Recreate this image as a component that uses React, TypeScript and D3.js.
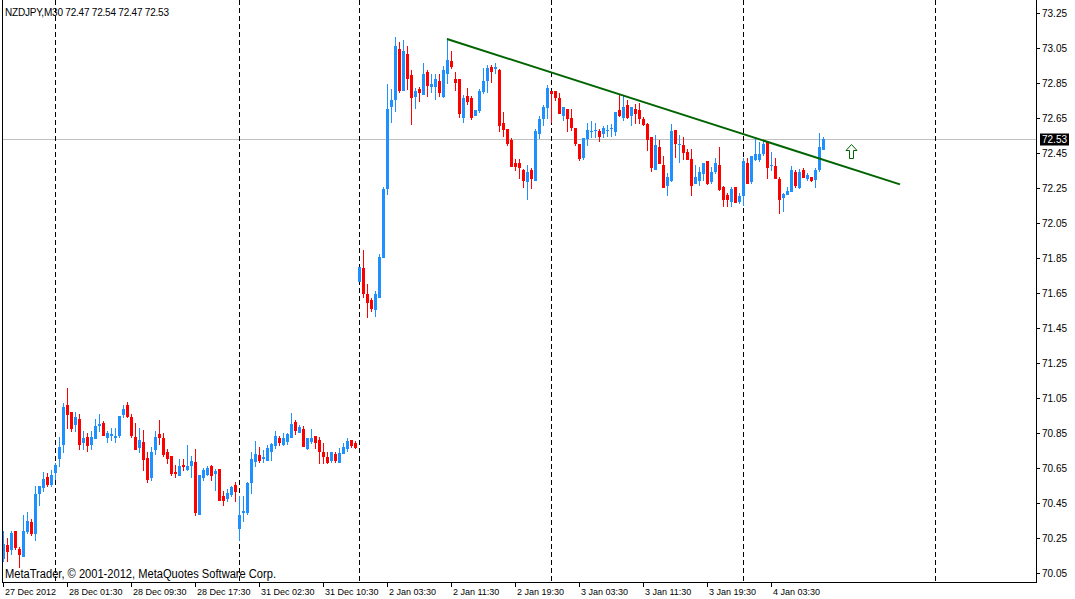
import * as d3 from "d3";

const SYMBOL = "NZDJPY,M30";
const LAST_BAR = [72.47, 72.54, 72.47, 72.53];
const BID = 72.53;

// [open, high, low, close] for each 30-minute bar, one array per trading day
const DEC27 = [
  [70.14, 70.29, 70.12, 70.22], [70.21, 70.25, 70.12, 70.18], [70.19, 70.29, 70.16, 70.28],
  [70.29, 70.29, 70.19, 70.2], [70.19, 70.2, 70.085, 70.16], [70.15, 70.38, 70.15, 70.29],
  [70.29, 70.4, 70.28, 70.35], [70.34, 70.36, 70.27, 70.28], [70.28, 70.55, 70.24, 70.5],
  [70.51, 70.55, 70.44, 70.55], [70.54, 70.63, 70.52, 70.59], [70.6, 70.62, 70.55, 70.56],
  [70.56, 70.64, 70.55, 70.61],
];

const DEC28 = [
  [70.63, 70.68, 70.59, 70.67], [70.71, 70.83, 70.66, 70.77], [70.79, 71.02, 70.74, 71.0],
  [71.01, 71.11, 70.88, 70.96], [70.97, 70.97, 70.86, 70.88], [70.9, 70.97, 70.86, 70.94],
  [70.93, 70.96, 70.76, 70.79], [70.8, 70.86, 70.76, 70.82], [70.83, 70.85, 70.75, 70.78],
  [70.79, 70.86, 70.76, 70.83], [70.82, 70.93, 70.82, 70.89], [70.895, 70.96, 70.86, 70.9],
  [70.91, 70.92, 70.84, 70.84], [70.83, 70.86, 70.8, 70.85], [70.84, 70.88, 70.81, 70.845],
  [70.83, 70.88, 70.8, 70.835], [70.84, 70.95, 70.83, 70.95], [70.96, 71.01, 70.94, 70.99],
  [71.01, 71.03, 70.94, 70.95], [70.94, 70.96, 70.83, 70.84], [70.83, 70.91, 70.76, 70.76],
  [70.77, 70.88, 70.74, 70.81], [70.8, 70.87, 70.64, 70.7], [70.71, 70.74, 70.57, 70.59],
  [70.6, 70.77, 70.58, 70.74], [70.76, 70.86, 70.73, 70.83], [70.845, 70.925, 70.79, 70.83],
  [70.82, 70.85, 70.72, 70.73], [70.74, 70.76, 70.68, 70.71], [70.72, 70.72, 70.61, 70.62],
  [70.63, 70.67, 70.6, 70.62], [70.61, 70.7, 70.61, 70.66], [70.67, 70.7, 70.64, 70.66],
  [70.645, 70.78, 70.64, 70.66], [70.67, 70.72, 70.6, 70.69], [70.685, 70.76, 70.38, 70.4],
  [70.39, 70.61, 70.39, 70.61], [70.6, 70.65, 70.58, 70.64], [70.615, 70.66, 70.61, 70.65],
  [70.66, 70.67, 70.58, 70.61], [70.62, 70.645, 70.525, 70.635], [70.645, 70.645, 70.47, 70.47],
  [70.49, 70.52, 70.44, 70.47], [70.48, 70.53, 70.46, 70.51], [70.5, 70.55, 70.49, 70.54],
  [70.555, 70.57, 70.46, 70.52],
];

const DEC31 = [
  [70.31, 70.49, 70.24, 70.38], [70.4, 70.49, 70.35, 70.405], [70.4, 70.57, 70.39, 70.565],
  [70.57, 70.745, 70.51, 70.7], [70.69, 70.805, 70.66, 70.73], [70.725, 70.77, 70.687, 70.697],
  [70.71, 70.754, 70.687, 70.712], [70.697, 70.782, 70.697, 70.763], [70.75, 70.795, 70.697, 70.79],
  [70.78, 70.864, 70.763, 70.834], [70.82, 70.834, 70.78, 70.8], [70.79, 70.85, 70.78, 70.82],
  [70.807, 70.853, 70.79, 70.845], [70.83, 70.963, 70.83, 70.9], [70.912, 70.925, 70.843, 70.868],
  [70.858, 70.897, 70.855, 70.883], [70.874, 70.89, 70.777, 70.777], [70.767, 70.824, 70.762, 70.824],
  [70.807, 70.872, 70.796, 70.824], [70.834, 70.834, 70.763, 70.8], [70.81, 70.83, 70.68, 70.748],
  [70.744, 70.796, 70.682, 70.72], [70.716, 70.744, 70.682, 70.687], [70.697, 70.744, 70.687, 70.744],
  [70.73, 70.744, 70.687, 70.697], [70.687, 70.767, 70.687, 70.735], [70.739, 70.796, 70.735, 70.769],
  [70.763, 70.82, 70.748, 70.807], [70.81, 70.81, 70.773, 70.783], [70.796, 70.807, 70.763, 70.77],
];

const JAN02 = [
  [71.72, 71.8, 71.72, 71.8], [71.793, 71.895, 71.629, 71.652], [71.644, 71.701, 71.511, 71.6],
  [71.61, 71.62, 71.55, 71.562], [71.559, 71.661, 71.52, 71.642], [71.629, 71.872, 71.629, 71.853],
  [71.857, 72.257, 71.857, 72.243], [72.251, 72.843, 72.215, 72.7], [72.717, 72.814, 72.628, 72.75],
  [72.757, 73.113, 72.69, 73.06], [73.043, 73.08, 72.797, 72.81], [72.81, 73.094, 72.81, 73.031],
  [73.014, 73.06, 72.814, 72.877], [72.894, 72.923, 72.615, 72.77], [72.774, 72.818, 72.708, 72.803],
  [72.814, 72.824, 72.748, 72.795], [72.788, 72.964, 72.788, 72.9], [72.911, 72.923, 72.776, 72.837],
  [72.83, 72.9, 72.8, 72.843], [72.83, 72.9, 72.757, 72.871], [72.86, 72.9, 72.776, 72.797],
  [72.776, 72.946, 72.77, 72.923], [72.907, 73.103, 72.85, 72.98], [72.974, 73.031, 72.936, 72.947],
  [72.871, 72.913, 72.808, 72.856], [72.871, 72.871, 72.656, 72.68], [72.656, 72.78, 72.628, 72.761],
  [72.774, 72.818, 72.729, 72.746], [72.761, 72.774, 72.641, 72.656], [72.666, 72.694, 72.666, 72.694],
  [72.694, 72.814, 72.685, 72.803], [72.805, 72.932, 72.793, 72.86], [72.866, 72.951, 72.799, 72.932],
  [72.942, 72.951, 72.856, 72.919], [72.937, 72.961, 72.908, 72.938], [72.923, 72.927, 72.577, 72.609],
  [72.618, 72.681, 72.546, 72.584], [72.584, 72.584, 72.495, 72.508], [72.523, 72.533, 72.377, 72.377],
  [72.39, 72.413, 72.352, 72.375], [72.39, 72.413, 72.308, 72.367], [72.352, 72.356, 72.257, 72.295],
  [72.29, 72.381, 72.186, 72.343], [72.352, 72.362, 72.251, 72.304], [72.295, 72.584, 72.295, 72.577],
  [72.561, 72.66, 72.533, 72.643], [72.647, 72.723, 72.609, 72.714], [72.714, 72.837, 72.647, 72.822],
];

const JAN03 = [
  [72.805, 72.805, 72.628, 72.79], [72.805, 72.805, 72.752, 72.771], [72.765, 72.79, 72.676, 72.679],
  [72.666, 72.714, 72.637, 72.714], [72.7, 72.7, 72.577, 72.647], [72.647, 72.7, 72.58, 72.595],
  [72.59, 72.59, 72.495, 72.508], [72.5, 72.5, 72.409, 72.419], [72.428, 72.537, 72.415, 72.537],
  [72.537, 72.618, 72.495, 72.58], [72.576, 72.632, 72.538, 72.577], [72.58, 72.618, 72.538, 72.581],
  [72.577, 72.584, 72.52, 72.548], [72.561, 72.603, 72.542, 72.59], [72.579, 72.609, 72.546, 72.581],
  [72.589, 72.615, 72.546, 72.59], [72.577, 72.685, 72.552, 72.685], [72.694, 72.78, 72.66, 72.666],
  [72.656, 72.78, 72.637, 72.71], [72.723, 72.752, 72.647, 72.656], [72.666, 72.714, 72.609, 72.71],
  [72.698, 72.729, 72.618, 72.676], [72.695, 72.737, 72.622, 72.651], [72.643, 72.653, 72.609, 72.617],
  [72.617, 72.622, 72.466, 72.529], [72.541, 72.541, 72.348, 72.371], [72.358, 72.552, 72.358, 72.495],
  [72.484, 72.524, 72.39, 72.39], [72.381, 72.432, 72.257, 72.257], [72.267, 72.333, 72.21, 72.31],
  [72.295, 72.615, 72.29, 72.575], [72.581, 72.581, 72.428, 72.508], [72.5, 72.552, 72.4, 72.501],
  [72.495, 72.539, 72.413, 72.457], [72.457, 72.47, 72.415, 72.415], [72.415, 72.47, 72.21, 72.267],
  [72.276, 72.381, 72.276, 72.314], [72.295, 72.367, 72.267, 72.339], [72.337, 72.394, 72.295, 72.394],
  [72.406, 72.406, 72.27, 72.28], [72.29, 72.367, 72.276, 72.343], [72.348, 72.419, 72.333, 72.394],
  [72.381, 72.482, 72.238, 72.242], [72.253, 72.261, 72.147, 72.187], [72.21, 72.219, 72.147, 72.187],
  [72.177, 72.253, 72.147, 72.242], [72.257, 72.257, 72.172, 72.172], [72.177, 72.219, 72.166, 72.204],
];

const JAN04 = [
  [72.21, 72.419, 72.153, 72.406], [72.39, 72.419, 72.276, 72.28], [72.29, 72.432, 72.276, 72.432],
  [72.415, 72.533, 72.41, 72.444], [72.415, 72.514, 72.406, 72.444], [72.451, 72.524, 72.438, 72.501],
  [72.514, 72.514, 72.305, 72.371], [72.381, 72.457, 72.352, 72.382], [72.375, 72.419, 72.305, 72.305],
  [72.299, 72.31, 72.109, 72.187], [72.196, 72.219, 72.12, 72.215], [72.215, 72.257, 72.215, 72.234],
  [72.234, 72.375, 72.234, 72.352], [72.339, 72.352, 72.253, 72.267], [72.257, 72.356, 72.248, 72.339],
  [72.352, 72.362, 72.314, 72.314], [72.305, 72.337, 72.295, 72.324], [72.314, 72.314, 72.29, 72.295],
  [72.299, 72.362, 72.257, 72.352], [72.356, 72.565, 72.348, 72.482], LAST_BAR,
];

const DAYS = [DEC27, DEC28, DEC31, JAN02, JAN03, JAN04];
const BARS_PER_DAY = 48;

const PRICE_TICKS = [
  73.25, 73.05, 72.85, 72.65, 72.45, 72.25, 72.05, 71.85, 71.65,
  71.45, 71.25, 71.05, 70.85, 70.65, 70.45, 70.25, 70.05,
];

// one label every 16 bars
const TIME_LABELS = [
  "27 Dec 2012", "28 Dec 01:30", "28 Dec 09:30", "28 Dec 17:30", "31 Dec 02:30",
  "31 Dec 10:30", "2 Jan 03:30", "2 Jan 11:30", "2 Jan 19:30", "3 Jan 03:30",
  "3 Jan 11:30", "3 Jan 19:30", "4 Jan 03:30",
];
const LABEL_STEP = 16;

// trend line [bar, price] and the up arrow
const TREND_START = [111, 73.1];
const TREND_END = [224.25, 72.27];
const ARROW = [212, 72.5];

const WIDTH = 1075;
const HEIGHT = 599;
const FRAME = { left: 2, right: 1036, bottom: 582 };
const FONT = "'Liberation Sans', Arial, sans-serif";
const UP = "#1e90ff";
const DOWN = "#ff0000";

export default function App() {
  const bars = DAYS.flat();

  // day separators sit on the first bar of each day after the first
  const dayStarts: number[] = [];
  let n = 0;
  DAYS.forEach((d) => {
    dayStarts.push(n);
    n += d.length;
  });
  dayStarts.push(dayStarts[dayStarts.length - 1] + BARS_PER_DAY);
  const separators = dayStarts.slice(1);

  const x = d3.scaleLinear().domain([0, 258]).range([3, 1035]);
  const y = d3.scaleLinear().domain([70.05, 73.25]).range([573.3, 12.7]);

  const candles = bars.map(([o, h, l, c], i) => {
    const cx = Math.round(x(i));
    const col = c >= o ? UP : DOWN;
    const yh = Math.round(y(h));
    const yl = Math.round(y(l));
    const yt = Math.round(y(Math.max(o, c)));
    const yb = Math.round(y(Math.min(o, c)));
    return (
      <g key={i}>
        <rect x={cx} y={yh} width={1} height={yl - yh + 1} fill={col} />
        <rect x={cx - 1} y={yt} width={3} height={Math.max(1, yb - yt + 1)} fill={col} />
      </g>
    );
  });

  const bidY = Math.round(y(BID)) + 0.5;
  const ax = x(ARROW[0]) + 0.5;
  const ay = Math.round(y(ARROW[1])) + 0.5;

  return (
    <svg
      width={WIDTH}
      height={HEIGHT}
      style={{ position: "absolute", left: 0, top: 0, background: "#fff" }}
      fontFamily={FONT}
    >
      <rect width={WIDTH} height={HEIGHT} fill="#fff" />

      {/* bid line */}
      <line x1={FRAME.left} x2={FRAME.right} y1={bidY} y2={bidY} stroke="#c0c0c0" />

      {/* day separators */}
      {separators.map((s) => (
        <line
          key={s}
          x1={x(s) + 0.5}
          x2={x(s) + 0.5}
          y1={0}
          y2={FRAME.bottom}
          stroke="#000"
          strokeDasharray="5,3"
        />
      ))}

      {candles}

      {/* trend line */}
      <line
        x1={x(TREND_START[0])}
        y1={y(TREND_START[1])}
        x2={x(TREND_END[0])}
        y2={y(TREND_END[1])}
        stroke="#006400"
        strokeWidth={2}
      />

      {/* arrow */}
      <path
        d={`M${ax},${ay} L${ax + 5.5},${ay + 6} L${ax + 2},${ay + 6} L${ax + 2},${ay + 14} L${ax - 2},${ay + 14} L${ax - 2},${ay + 6} L${ax - 5.5},${ay + 6} Z`}
        fill="#fff"
        stroke="#006400"
        strokeWidth={1}
      />

      {/* frame */}
      <line x1={FRAME.left + 0.5} x2={FRAME.left + 0.5} y1={0} y2={FRAME.bottom} stroke="#000" />
      <line x1={FRAME.right + 0.5} x2={FRAME.right + 0.5} y1={0} y2={FRAME.bottom + 0.5} stroke="#000" />
      <line x1={FRAME.left} x2={FRAME.right + 1} y1={FRAME.bottom + 0.5} y2={FRAME.bottom + 0.5} stroke="#000" />

      {/* price axis */}
      {PRICE_TICKS.map((p) => {
        const ty = Math.round(y(p)) + 0.5;
        return (
          <g key={p}>
            <line x1={FRAME.right + 1} x2={FRAME.right + 4} y1={ty} y2={ty} stroke="#000" />
            <text x={1042} y={ty} dy="0.35em" fontSize={10} fill="#000">
              {p.toFixed(2)}
            </text>
          </g>
        );
      })}
      <rect x={1040} y={bidY - 6} width={29} height={12} fill="#000" />
      <text x={1042} y={bidY} dy="0.35em" fontSize={10} fill="#fff">
        {BID.toFixed(2)}
      </text>

      {/* time axis */}
      {TIME_LABELS.map((t, k) => {
        const tx = Math.round(x(k * LABEL_STEP)) + 0.5;
        return (
          <g key={t}>
            <line x1={tx} x2={tx} y1={FRAME.bottom + 1} y2={FRAME.bottom + 5} stroke="#000" />
            <text x={tx + 1.5} y={595} fontSize={9} fill="#000">
              {t}
            </text>
          </g>
        );
      })}

      {/* header and footer */}
      <text x={5} y={16} fontSize={10} fill="#000" textLength={164} lengthAdjust="spacing">
        {`${SYMBOL}  ${LAST_BAR.map((v) => v.toFixed(2)).join(" ")}`}
      </text>
      <text x={5} y={578} fontSize={12} fill="#000" textLength={271} lengthAdjust="spacingAndGlyphs">
        MetaTrader, © 2001-2012, MetaQuotes Software Corp.
      </text>
    </svg>
  );
}
